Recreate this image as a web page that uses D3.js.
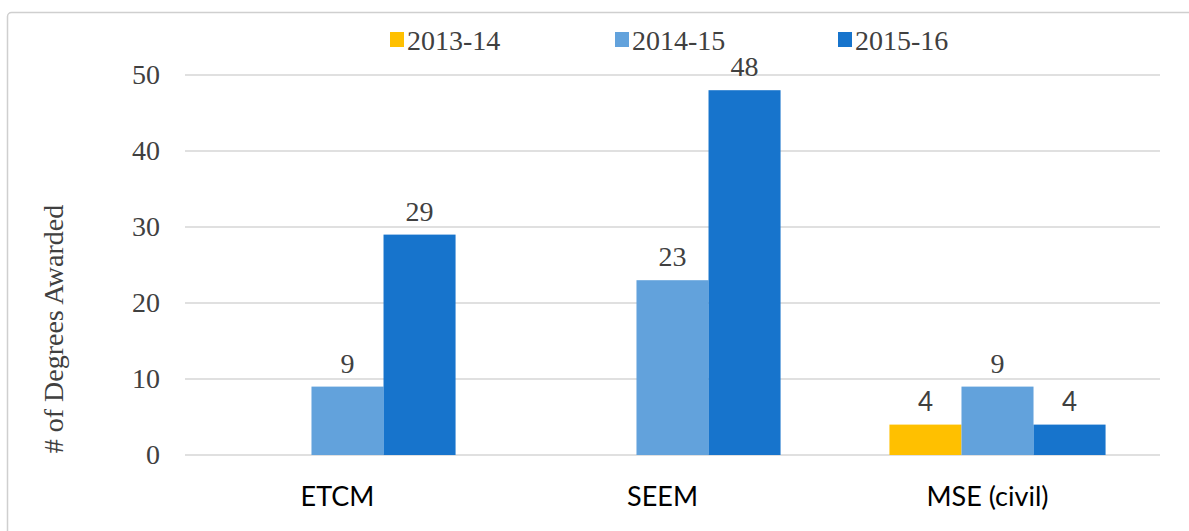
<!DOCTYPE html>
<html>
<head>
<meta charset="utf-8">
<script src="https://cdn.jsdelivr.net/npm/d3@7"></script>
<style>
  html, body { margin: 0; padding: 0; background: #fff; }
  svg { display: block; }
</style>
</head>
<body>
<svg width="1189" height="531"></svg>
<script>
const categories = ["ETCM", "SEEM", "MSE (civil)"];
const seriesNames = ["2013-14", "2014-15", "2015-16"];
const values2013 = [null, null, 4];
const values2014 = [9, 23, 9];
const values2015 = [29, 48, 4];
const yTicks = [0, 10, 20, 30, 40, 50];

const colors = { "2013-14": "#FFC000", "2014-15": "#62A2DC", "2015-16": "#1774CC" };
const serif = "'Liberation Serif', 'Times New Roman', serif";
const sans = "Lato, 'Open Sans', sans-serif";

const seriesValues = { "2013-14": values2013, "2014-15": values2014, "2015-16": values2015 };

const svg = d3.select("svg");

// chart border, only top and left edges show in the picture
svg.append("rect")
    .attr("x", 7.5).attr("y", 12.5)
    .attr("width", 1300).attr("height", 600)
    .attr("rx", 4)
    .attr("fill", "none")
    .attr("stroke", "#cfcfcf")
    .attr("stroke-width", 1.5);

let x = d3.scaleBand().domain(categories).range([185, 1160]).paddingInner(0.335).paddingOuter(0.1675);
let xInner = d3.scaleBand().domain(seriesNames).range([0, x.bandwidth()]);
let y = d3.scaleLinear().domain([0, 50]).range([455, 75]);

// gridlines
svg.append("g")
    .selectAll("line").data(yTicks).enter()
    .append("line")
    .attr("x1", 185).attr("x2", 1160)
    .attr("y1", d => y(d)).attr("y2", d => y(d))
    .attr("stroke", "#d6d6d6")
    .attr("stroke-width", 1.6);

// y axis
let leftAxis = d3.axisLeft(y).tickValues(yTicks).tickSize(0).tickPadding(25);
let gy = svg.append("g").attr("transform", "translate(185,0)").call(leftAxis);
gy.select(".domain").remove();
gy.selectAll("text")
    .attr("font-family", serif)
    .attr("font-size", 28)
    .attr("fill", "#404040");

// y title
svg.append("text")
    .attr("transform", "translate(63,329) rotate(-90)")
    .attr("text-anchor", "middle")
    .attr("font-family", serif)
    .attr("font-size", 28)
    .attr("fill", "#404040")
    .text("# of Degrees Awarded");

// bars
let rows = [];
categories.forEach((c, i) => {
    seriesNames.forEach(s => {
        let v = seriesValues[s][i];
        if (v != null) rows.push({ cat: c, series: s, value: v });
    });
});

svg.append("g")
    .selectAll("rect").data(rows).enter()
    .append("rect")
    .attr("x", d => x(d.cat) + xInner(d.series))
    .attr("y", d => y(d.value))
    .attr("width", xInner.bandwidth())
    .attr("height", d => y(0) - y(d.value))
    .attr("fill", d => colors[d.series]);

// value labels
const sansLabel = d => d.cat === "MSE (civil)" && d.series !== "2014-15";
svg.append("g")
    .selectAll("text").data(rows).enter()
    .append("text")
    .attr("x", d => x(d.cat) + xInner(d.series) + xInner.bandwidth() / 2)
    .attr("y", d => y(d.value) - 14)
    .attr("text-anchor", "middle")
    .attr("font-family", d => sansLabel(d) ? sans : serif)
    .attr("font-size", d => sansLabel(d) ? 26 : 28)
    .attr("fill", "#404040")
    .text(d => d.value);

// category labels
let bottomAxis = d3.axisBottom(x).tickSize(0).tickPadding(0);
let gx = svg.append("g").attr("transform", "translate(-10,506)").call(bottomAxis);
gx.select(".domain").remove();
gx.selectAll("text")
    .attr("dy", 0)
    .attr("font-family", sans)
    .attr("font-size", 27)
    .attr("fill", "#000");

// legend
let legendX = [390, 615, 838];
let legend = svg.append("g")
    .selectAll("g").data(seriesNames).enter()
    .append("g")
    .attr("transform", (d, i) => `translate(${legendX[i]},0)`);
legend.append("rect")
    .attr("x", 0).attr("y", 32)
    .attr("width", 14).attr("height", 15)
    .attr("fill", d => colors[d]);
legend.append("text")
    .attr("x", 17).attr("y", 50)
    .attr("font-family", serif)
    .attr("font-size", 28)
    .attr("fill", "#404040")
    .text(d => d);
</script>
</body>
</html>
